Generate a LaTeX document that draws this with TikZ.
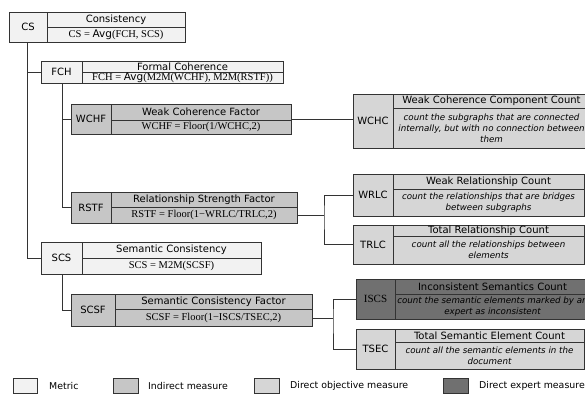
\documentclass[tikz,border=0pt]{standalone}
\usepackage{fontspec}
\setmainfont{Liberation Serif}
\newfontfamily\dv{DejaVu Sans}
\usetikzlibrary{fit}
\definecolor{metricc}{HTML}{F2F2F2}
\definecolor{indc}{HTML}{C6C6C6}
\definecolor{dobjc}{HTML}{D6D6D6}
\definecolor{dexpc}{HTML}{707070}
\definecolor{linec}{HTML}{333333}
\tikzset{
  cell/.style={draw=linec, line width=0.8pt, inner sep=0pt, outer sep=0pt, rectangle},
  divider/.style={draw=linec, line width=0.8pt},
  conn/.style={draw=linec, line width=0.8pt},
  lab/.style={inner sep=0pt, font=\dv\fontsize{10}{12}\selectfont},
  ttl/.style={inner sep=0pt, font=\dv\fontsize{10}{12}\selectfont},
  frm/.style={inner sep=0pt, font=\fontsize{10.5}{12}\selectfont},
  desc/.style={inner sep=0pt, align=center, font=\dv\itshape\fontsize{8.7}{11}\selectfont},
  legtxt/.style={inner sep=0pt, anchor=west, font=\dv\fontsize{9.4}{11}\selectfont},
}
\newcommand\mbx[8]{%
  \node[cell, fill=#8, fit={(#2,-#3) (#4,-#5)}] (#1) {};
  \draw[divider] (#6,-#3) -- (#6,-#5) (#6,-#7) -- (#4,-#7);
  \coordinate (#1-l) at ({(#2+#6)/2},{-(#3+#5)/2});
  \coordinate (#1-t) at ({(#6+#4)/2},{-(#3+#7)/2});
  \coordinate (#1-b) at ({(#6+#4)/2},{-(#7+#5)/2});
}
\newcommand\avg{{\dv Avg}}
\begin{document}
\begin{tikzpicture}[x=1pt,y=1pt]
\useasboundingbox[fill=white] (0,0) rectangle (585,-394);
\begin{scope}
\clip (0,0) rectangle (585,-394);
% boxes
\mbx{cs}{9}{12}{185}{42}{47}{27}{metricc}
\mbx{fch}{41}{61}{283}{83}{82}{72}{metricc}
\mbx{wchf}{71}{104}{291}{134}{111}{120}{indc}
\mbx{rstf}{71}{192}{297}{223}{111}{207}{indc}
\mbx{scs}{41}{242}{261}{274}{82}{258}{metricc}
\mbx{scsf}{71}{294}{312}{326}{115}{309}{indc}
\mbx{wchc}{353}{94}{590}{148}{393}{108}{dobjc}
\mbx{wrlc}{353}{174}{584}{216}{393}{189}{dobjc}
\mbx{trlc}{353}{225}{584}{264}{393}{236}{dobjc}
\mbx{iscs}{356}{279}{590}{319}{395}{294}{dexpc}
\mbx{tsec}{356}{329}{584}{369}{395}{342}{dobjc}
% texts
\node[lab] (cs-lab) at (cs-l) {CS};
\node[ttl] (cs-ttl) at (cs-t) {Consistency};
\node[frm] (cs-frm) at (cs-b) {CS = \avg(FCH, SCS)};
\node[lab] (fch-lab) at (fch-l) {FCH};
\node[ttl] (fch-ttl) at (fch-t) {Formal Coherence};
\node[frm] (fch-frm) at (fch-b) {FCH = \avg(M2M(WCHF), M2M(RSTF))};
\node[lab] (wchf-lab) at (wchf-l) {WCHF};
\node[ttl] (wchf-ttl) at (wchf-t) {Weak Coherence Factor};
\node[frm] (wchf-frm) at (wchf-b) {WCHF = Floor(1/WCHC,2)};
\node[lab] (rstf-lab) at (rstf-l) {RSTF};
\node[ttl] (rstf-ttl) at (rstf-t) {Relationship Strength Factor};
\node[frm] (rstf-frm) at (rstf-b) {RSTF = Floor(1−WRLC/TRLC,2)};
\node[lab] (scs-lab) at (scs-l) {SCS};
\node[ttl] (scs-ttl) at (scs-t) {Semantic Consistency};
\node[frm] (scs-frm) at (scs-b) {SCS = M2M(SCSF)};
\node[lab] (scsf-lab) at (scsf-l) {SCSF};
\node[ttl] (scsf-ttl) at (scsf-t) {Semantic Consistency Factor};
\node[frm] (scsf-frm) at (scsf-b) {SCSF = Floor(1−ISCS/TSEC,2)};
\node[lab] (wchc-lab) at (wchc-l) {WCHC};
\node[ttl] (wchc-ttl) at (wchc-t) {Weak Coherence Component Count};
\node[desc] (wchc-d) at (wchc-b) {count the subgraphs that are connected\\internally, but with no connection between\\them};
\node[lab] (wrlc-lab) at (wrlc-l) {WRLC};
\node[ttl] (wrlc-ttl) at (wrlc-t) {Weak Relationship Count};
\node[desc] (wrlc-d) at (wrlc-b) {count the relationships that are bridges\\between subgraphs};
\node[lab] (trlc-lab) at (trlc-l) {TRLC};
\node[ttl] (trlc-ttl) at (trlc-t) {Total Relationship Count};
\node[desc] (trlc-d) at (trlc-b) {count all the relationships between\\elements};
\node[lab, font=\fontsize{11}{12}\selectfont] (iscs-lab) at (iscs-l) {ISCS};
\node[ttl] (iscs-ttl) at (iscs-t) {Inconsistent Semantics Count};
\node[desc] (iscs-d) at (iscs-b) {count the semantic elements marked by an\\expert as inconsistent};
\node[lab] (tsec-lab) at (tsec-l) {TSEC};
\node[ttl] (tsec-ttl) at (tsec-t) {Total Semantic Element Count};
\node[desc] (tsec-d) at (tsec-b) {count all the semantic elements in the\\document};
% connectors
\coordinate (t1) at (27,-42);
\draw[conn] (t1) |- (scs.west);
\draw[conn] (t1 |- fch.west) -- (fch.west);
\coordinate (t2) at (62,-83);
\draw[conn] (t2) |- (rstf.west);
\draw[conn] (t2 |- wchf.west) -- (wchf.west);
\coordinate (t3) at (62,-274);
\draw[conn] (t3) |- (scsf.west);
\draw[conn] (wchf.east) -- (wchf.east -| wchc.west);
\coordinate (j1) at (324,-215);
\draw[conn] (rstf.east |- j1) -- (j1);
\draw[conn] (wrlc.west) -| (j1) |- (trlc.west);
\coordinate (j2) at (333,-318);
\draw[conn] (scsf.east |- j2) -- (j2);
\draw[conn] (iscs.west) -| (j2) |- (tsec.west);
% legend
\node[cell, fill=metricc, fit={(13,-378) (37,-393)}] (lg1) {};
\node[legtxt] (lg1t) at (49,-386) {Metric};
\node[cell, fill=indc, fit={(113,-378) (138,-393)}] (lg2) {};
\node[legtxt] (lg2t) at (148,-386) {Indirect measure};
\node[cell, fill=dobjc, fit={(254,-378) (279,-393)}] (lg3) {};
\node[legtxt] (lg3t) at (290,-386) {Direct objective measure};
\node[cell, fill=dexpc, fit={(443,-378) (468,-393)}] (lg4) {};
\node[legtxt] (lg4t) at (479,-386) {Direct expert measure};
\end{scope}
\end{tikzpicture}
\end{document}
